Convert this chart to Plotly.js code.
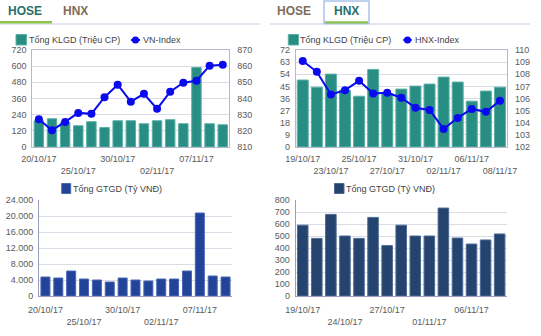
<!DOCTYPE html>
<html>
<head>
<meta charset="utf-8">
<script src="https://cdn.plot.ly/plotly-3.0.1.min.js"></script>
<style>html,body{margin:0;padding:0;background:#fff;}#chart{width:541px;height:336px;}</style>
</head>
<body>
<div id="chart"></div>
<script>
// ---------------- DATA ----------------
const hoseDates = ['20/10/17','23/10/17','24/10/17','25/10/17','26/10/17','27/10/17','30/10/17','31/10/17','01/11/17','02/11/17','03/11/17','06/11/17','07/11/17','08/11/17','09/11/17'];
const hoseKLGD = [195,210,183,158,188,145,195,195,173,195,203,173,590,173,165];
const vnIndex = [827.2,820.4,825.5,831.1,830.5,840.8,848.5,838.0,842.9,833.6,844.2,849.8,851.0,860.3,860.9];
const hoseGTGD = [4750,4500,6250,4250,4000,3500,4500,4000,3750,4250,4250,6250,20750,5000,4750];

const hnxDates = ['19/10/17','20/10/17','23/10/17','24/10/17','25/10/17','26/10/17','27/10/17','30/10/17','31/10/17','01/11/17','02/11/17','03/11/17','06/11/17','07/11/17','08/11/17'];
const hnxKLGD = [49.7,44.4,54.1,42.2,37.7,57.6,39.7,43.0,45.2,46.7,51.9,48.2,34.0,41.5,44.4];
const hnxIndex = [109.09,108.2,106.33,106.69,107.46,106.41,106.47,106.06,105.23,105.06,103.49,104.4,105.14,104.9,105.81];
const hnxGTGD = [590,480,680,500,480,655,420,590,500,500,733,483,433,467,517];

const hoseTickDates = ['20/10/17','25/10/17','30/10/17','02/11/17','07/11/17'];
const hnxTopTickDates = ['19/10/17','23/10/17','25/10/17','27/10/17','31/10/17','02/11/17','06/11/17','08/11/17'];
const hnxBottomTickDates = ['19/10/17','24/10/17','27/10/17','01/11/17','06/11/17'];

const tabNames = ['HOSE','HNX'];
const klgdName = 'Tổng KLGD (Triệu CP)';
const gtgdName = 'Tổng GTGD (Tỷ VNĐ)';
const vnName = 'VN-Index';
const hnxName = 'HNX-Index';

// ---------------- LAYOUT HELPERS ----------------
const W = 541, H = 336;
const px = x => x / W;
const py = y => 1 - y / H;
const stagger = arr => arr.map((t, i) => i % 2 ? '<br>' + t : t);

const FONT = 'Liberation Sans, Arial, sans-serif';
const tickFont = {family: FONT, size: 9, color: '#5a5a5a'};
const gridC = '#dcdce6';
const frameC = '#b8b8cc';

const tealBar = {color: '#288d83', line: {color: '#5cb0a6', width: 1}};
const navyBar = {color: '#22439a', line: {color: '#4a68b0', width: 1}};
const steelBar = {color: '#24446f', line: {color: '#4d6b92', width: 1}};
const lineStyle = {color: '#0a0aee', width: 2};
const markerStyle = {color: '#0a0aee', size: 8};

const traces = [
  {type: 'bar', x: hoseDates, y: hoseKLGD, xaxis: 'x', yaxis: 'y', marker: tealBar, width: 0.72, name: klgdName, hoverinfo: 'none'},
  {type: 'scatter', mode: 'lines+markers', x: hoseDates, y: vnIndex, xaxis: 'x', yaxis: 'y2', line: lineStyle, marker: markerStyle, name: vnName, hoverinfo: 'none'},
  {type: 'bar', x: hnxDates, y: hnxKLGD, xaxis: 'x2', yaxis: 'y3', marker: tealBar, width: 0.78, name: klgdName, hoverinfo: 'none'},
  {type: 'scatter', mode: 'lines+markers', x: hnxDates, y: hnxIndex, xaxis: 'x2', yaxis: 'y4', line: lineStyle, marker: markerStyle, name: hnxName, hoverinfo: 'none'},
  {type: 'bar', x: hoseDates, y: hoseGTGD, xaxis: 'x3', yaxis: 'y5', marker: navyBar, width: 0.7, name: gtgdName, hoverinfo: 'none'},
  {type: 'bar', x: hnxDates, y: hnxGTGD, xaxis: 'x4', yaxis: 'y6', marker: steelBar, width: 0.75, name: gtgdName, hoverinfo: 'none'}
];

function xAxis(domain, anchor, ticks, framed) {
  return {
    domain: domain, anchor: anchor, type: 'category', range: [-0.5, 14.5],
    tickmode: 'array', tickvals: ticks, ticktext: stagger(ticks), tickangle: 0,
    showgrid: false, zeroline: false, ticks: '', tickfont: tickFont,
    showline: true, mirror: framed, linecolor: frameC, linewidth: 1,
    ticklabelstandoff: 3, fixedrange: true
  };
}
function yAxis(domain, anchor, range, dtick, framed, extra) {
  return Object.assign({
    domain: domain, anchor: anchor, range: range, dtick: dtick, tick0: range[0],
    showgrid: true, gridcolor: gridC, gridwidth: 1, zeroline: false, ticks: '',
    tickfont: tickFont, showline: true, mirror: framed, linecolor: frameC, linewidth: 1,
    ticklabelstandoff: 3, fixedrange: true
  }, extra || {});
}

const topY = [py(147), py(50)];
const botY = [py(296), py(200)];

const layout = {
  width: W, height: H,
  margin: {l: 0, r: 0, t: 0, b: 0},
  paper_bgcolor: '#ffffff', plot_bgcolor: 'rgba(0,0,0,0)',
  showlegend: false, separators: ',.',
  font: {family: FONT, size: 9, color: '#555'},
  xaxis: xAxis([px(32.3), px(229.3)], 'y', hoseTickDates, true),
  yaxis: yAxis(topY, 'x', [0, 720], 120, true),
  yaxis2: {overlaying: 'y', anchor: 'x', side: 'right', range: [810, 870], dtick: 10, tick0: 810,
           showgrid: false, zeroline: false, ticks: '', tickfont: tickFont, showline: false,
           ticklabelstandoff: 7, fixedrange: true},
  xaxis2: xAxis([px(295.7), px(507)], 'y3', hnxTopTickDates, true),
  yaxis3: yAxis(topY, 'x2', [0, 72], 9, true),
  yaxis4: {overlaying: 'y3', anchor: 'x2', side: 'right', range: [102, 110], dtick: 1, tick0: 102,
           showgrid: false, zeroline: false, ticks: '', tickfont: tickFont, showline: false,
           ticklabelstandoff: 7, fixedrange: true},
  xaxis3: xAxis([px(39), px(232)], 'y5', hoseTickDates, false),
  yaxis5: yAxis(botY, 'x3', [0, 24000], 4000, false, {tickformat: ',d', linecolor: '#9c9cbc'}),
  xaxis4: xAxis([px(295.7), px(506.7)], 'y6', hnxBottomTickDates, false),
  yaxis6: yAxis(botY, 'x4', [0, 800], 100, false, {linecolor: '#9c9cbc'}),
  annotations: [],
  shapes: []
};
layout.xaxis3.ticklabelstandoff = 5;
layout.xaxis4.ticklabelstandoff = 5;
layout.xaxis3.linecolor = '#9c9cbc';
layout.xaxis4.linecolor = '#9c9cbc';

const A = layout.annotations, S = layout.shapes;
function txt(text, x, y, opts) {
  A.push(Object.assign({text: text, xref: 'paper', yref: 'paper', x: px(x), y: py(y),
    xanchor: 'left', yanchor: 'middle', showarrow: false, borderpad: 0,
    font: {family: FONT, size: 9, color: '#444'}}, opts || {}));
}
function rect(x0, y0, x1, y1, fill, line) {
  S.push({type: 'rect', xref: 'paper', yref: 'paper', x0: px(x0), x1: px(x1), y0: py(y0), y1: py(y1),
    fillcolor: fill, line: line || {width: 0}});
}
function hline(x0, x1, y, color, w) {
  S.push({type: 'line', xref: 'paper', yref: 'paper', x0: px(x0), x1: px(x1), y0: py(y), y1: py(y),
    line: {color: color, width: w}});
}

// Tabs
const tabActive = '#2b6f6a', tabIdle = '#7f6d5b';
hline(0, 260, 24, '#c3cde0', 1);
hline(270, 530, 24, '#c3cde0', 1);
rect(0, 21, 52, 23.5, '#8fc44c');
rect(324, 1, 369, 23.5, 'rgba(0,0,0,0)', {color: '#a9c4ec', width: 1.5});
rect(325, 21.3, 368, 23.5, '#8fc44c');
txt('<b>' + tabNames[0] + '</b>', 24.5, 11.5, {xanchor: 'center', font: {family: FONT, size: 12, color: tabActive}});
txt('<b>' + tabNames[1] + '</b>', 75.8, 11.5, {xanchor: 'center', font: {family: FONT, size: 12, color: tabIdle}});
txt('<b>' + tabNames[0] + '</b>', 294, 11.5, {xanchor: 'center', font: {family: FONT, size: 12, color: tabIdle}});
txt('<b>' + tabNames[1] + '</b>', 346, 11.5, {xanchor: 'center', font: {family: FONT, size: 12, color: tabActive}});

// Legends (top)
function lineLegend(x0, x1, y) {
  hline(x0, x1, y, lineStyle.color, 2);
  const cx = (x0 + x1) / 2, r = 3.6;
  S.push({type: 'circle', xref: 'paper', yref: 'paper', x0: px(cx - r), x1: px(cx + r), y0: py(y + r), y1: py(y - r),
    fillcolor: lineStyle.color, line: {width: 0}});
}
rect(16, 34.5, 26.5, 45, '#288d83', {color: '#5cb0a6', width: 1});
txt(klgdName, 27.5, 40);
lineLegend(131, 140, 40);
txt(vnName, 141.5, 40);

rect(288.3, 34.5, 298.5, 45, '#288d83', {color: '#5cb0a6', width: 1});
txt(klgdName, 299.3, 40);
lineLegend(403.3, 411.7, 40);
txt(hnxName, 413.5, 40);

// Legends (bottom)
rect(61.7, 183.5, 70.7, 193.5, '#22439a', {color: '#4a68b0', width: 1});
txt(gtgdName, 71.5, 188.5);
rect(334.5, 183.5, 344, 193.5, '#24446f', {color: '#4d6b92', width: 1});
txt(gtgdName, 345, 188.5);

Plotly.newPlot('chart', traces, layout, {staticPlot: true, displayModeBar: false});
</script>
</body>
</html>
